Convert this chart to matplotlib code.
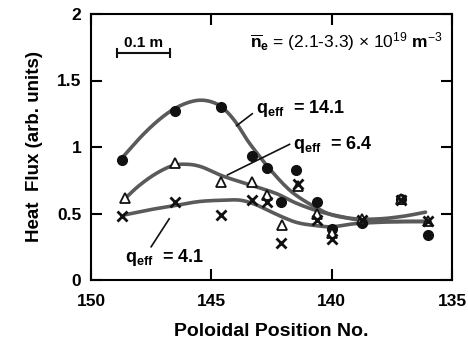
import numpy as np
import matplotlib
matplotlib.use("Agg")
from matplotlib import pyplot as plt

plt.rcParams['font.family'] = ['Liberation Sans', 'DejaVu Sans']
plt.rcParams['mathtext.fontset'] = 'custom'
plt.rcParams['mathtext.rm'] = 'Liberation Sans'
plt.rcParams['mathtext.bf'] = 'Liberation Sans:bold'
plt.rcParams['mathtext.it'] = 'Liberation Sans:italic'

# measured points
pos_c = [148.7, 146.5, 144.6, 143.3, 142.7, 142.1, 141.5, 140.6, 140.0, 138.75, 137.1, 136.0]
hf_c = [0.90, 1.27, 1.30, 0.93, 0.84, 0.59, 0.83, 0.59, 0.38, 0.43, 0.61, 0.34]

pos_t = [148.6, 146.5, 144.6, 143.3, 142.7, 142.05, 141.4, 140.6, 140.0, 138.75, 137.1, 136.0]
hf_t = [0.62, 0.88, 0.74, 0.74, 0.64, 0.41, 0.71, 0.50, 0.35, 0.46, 0.61, 0.44]

pos_x = [148.7, 146.5, 144.6, 143.3, 142.7, 142.1, 141.4, 140.6, 140.0, 138.75, 137.1, 136.0]
hf_x = [0.48, 0.59, 0.49, 0.60, 0.59, 0.28, 0.72, 0.45, 0.31, 0.45, 0.60, 0.44]

# fitted curves
fit14_pos = [148.7, 147.8, 147.0, 146.3, 145.6, 145.0, 144.5, 144.0, 143.5, 143.0, 142.6,
             142.0, 141.5, 140.8, 140.0, 139.0, 138.0, 137.0, 136.1]
fit14_hf = [0.92, 1.10, 1.23, 1.31, 1.35, 1.34, 1.29, 1.19, 1.05, 0.93, 0.84,
            0.72, 0.64, 0.56, 0.49, 0.46, 0.46, 0.48, 0.51]

fit6_pos = [148.6, 148.0, 147.3, 146.6, 146.0, 145.4, 144.5, 143.3, 142.3, 141.5, 140.6,
            139.7, 138.8, 137.5, 136.0]
fit6_hf = [0.61, 0.71, 0.80, 0.86, 0.87, 0.85, 0.78, 0.71, 0.65, 0.58, 0.52,
           0.48, 0.45, 0.44, 0.44]

fit4_pos = [148.6, 147.5, 146.5, 145.5, 144.5, 143.8, 143.2, 142.6, 142.0, 141.4, 140.7,
            140.0, 139.2, 138.5, 137.0, 136.0]
fit4_hf = [0.49, 0.53, 0.56, 0.59, 0.60, 0.60, 0.57, 0.52, 0.47, 0.43, 0.41,
           0.40, 0.42, 0.43, 0.44, 0.44]


def smooth(xs, ys, n=12):
    # catmull-rom through the knots, just for a smooth drawn line
    x = np.asarray(xs, float)
    y = np.asarray(ys, float)
    x = np.concatenate([[2 * x[0] - x[1]], x, [2 * x[-1] - x[-2]]])
    y = np.concatenate([[2 * y[0] - y[1]], y, [2 * y[-1] - y[-2]]])
    ox, oy = [], []
    t = np.linspace(0, 1, n, endpoint=False)
    for i in range(1, len(x) - 2):
        for arr, out in ((x, ox), (y, oy)):
            p0, p1, p2, p3 = arr[i - 1], arr[i], arr[i + 1], arr[i + 2]
            out.extend(0.5 * (2 * p1 + (-p0 + p2) * t + (2 * p0 - 5 * p1 + 4 * p2 - p3) * t ** 2
                              + (-p0 + 3 * p1 - 3 * p2 + p3) * t ** 3))
    ox.append(x[-2])
    oy.append(y[-2])
    return ox, oy


fig = plt.figure(figsize=(4.68, 3.5), dpi=100)
ax = fig.add_axes([91 / 468, 1 - 280 / 350, 361 / 468, 266 / 350])

line_c = '#5a5a5a'
for xs, ys in ((fit14_pos, fit14_hf), (fit6_pos, fit6_hf), (fit4_pos, fit4_hf)):
    sx, sy = smooth(xs, ys)
    ax.plot(sx, sy, color=line_c, lw=2.6, solid_capstyle='round', zorder=2)

ax.plot(pos_c, hf_c, 'o', ms=7, color='#111111', ls='none', zorder=3)
ax.plot(pos_t, hf_t, '^', ms=7, mfc='white', mec='#111111', mew=1.3, ls='none', zorder=3)
ax.plot(pos_x, hf_x, 'x', ms=7, color='#111111', mew=2.0, ls='none', zorder=3)

ax.set_xlim(150, 135)
ax.set_ylim(0, 2)
ax.set_xticks([150, 145, 140, 135])
ax.set_yticks([0, 0.5, 1, 1.5, 2])
ax.set_xticklabels(['150', '145', '140', '135'])
ax.set_yticklabels(['0', '0.5', '1', '1.5', '2'])
ax.tick_params(direction='in', length=8, width=1.5, top=True, right=True, labelsize=12.5)
ax.tick_params(axis='x', pad=10)
ax.tick_params(axis='y', pad=7)
for lab in ax.get_xticklabels() + ax.get_yticklabels():
    lab.set_fontweight('bold')
for s in ax.spines.values():
    s.set_linewidth(1.5)

ax.set_xlabel('Poloidal Position No.', fontsize=14, fontweight='bold', labelpad=10)
ax.set_ylabel('Heat  Flux (arb. units)', fontsize=13.5, fontweight='bold', labelpad=10)

# scale bar
ax.plot([148.94, 146.72], [1.71, 1.71], color='#111111', lw=1.5)
ax.plot([148.94, 148.94], [1.68, 1.74], color='#111111', lw=1.5)
ax.plot([146.72, 146.72], [1.68, 1.74], color='#111111', lw=1.5)
ax.text(147.83, 1.73, '0.1 m', ha='center', va='bottom', fontsize=11, fontweight='bold')

ax.text(135.38, 1.79, r'$\overline{\mathbf{n}}_{\mathbf{e}}$ = (2.1-3.3) $\times$ 10$^{19}$ $\mathbf{m}^{-3}$',
        ha='right', va='center', fontsize=12.5)

ax.text(143.15, 1.29, r'q$_{\mathbf{eff}}$  = 14.1', fontsize=13, fontweight='bold', va='center')
ax.plot([143.95, 143.3], [1.16, 1.25], color='#111111', lw=1.2)
ax.text(141.6, 1.02, r'q$_{\mathbf{eff}}$  = 6.4', fontsize=13, fontweight='bold', va='center')
ax.plot([144.33, 141.75], [0.79, 1.02], color='#111111', lw=1.2)
ax.text(148.6, 0.17, r'q$_{\mathbf{eff}}$  = 4.1', fontsize=13, fontweight='bold', va='center')
ax.plot([147.5, 146.75], [0.25, 0.46], color='#111111', lw=1.2)

plt.savefig('out.png', dpi=100)
